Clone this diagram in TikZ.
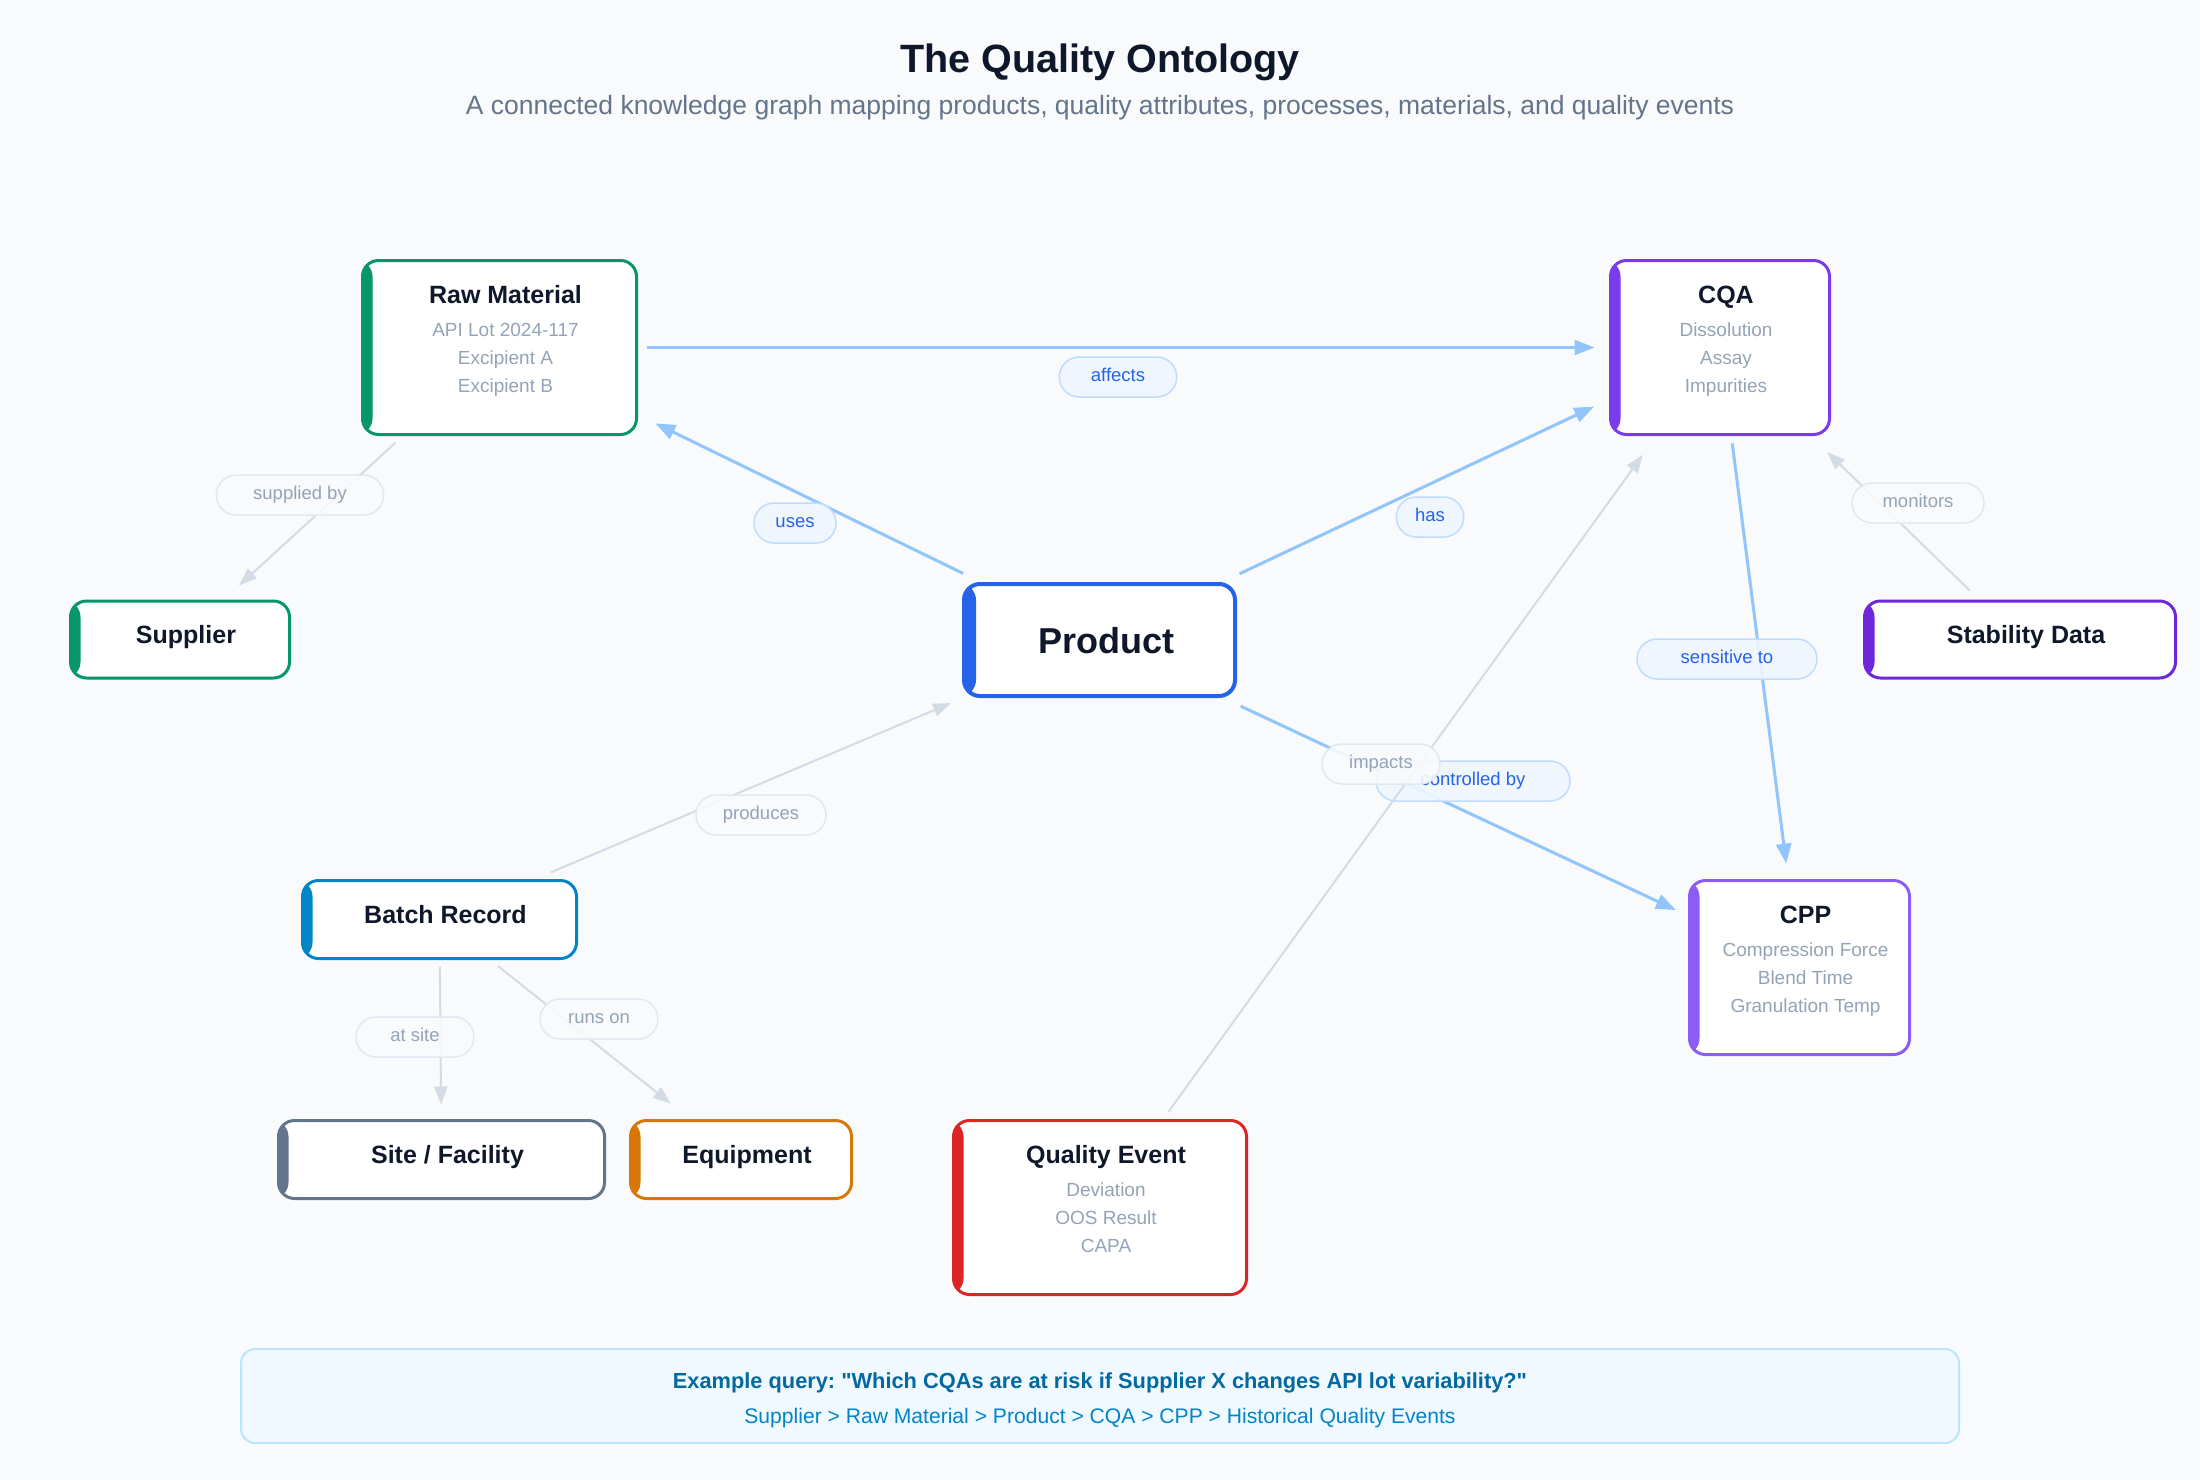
\documentclass[tikz,border=0pt]{standalone}
\usepackage{fontspec}
\setmainfont{Liberation Sans}
\newfontfamily\qfont{Liberation Sans}
\usetikzlibrary{arrows.meta}
\frenchspacing
\definecolor{bg}{HTML}{F8FAFC}
\definecolor{cink}{HTML}{0F172A}
\definecolor{csubt}{HTML}{64748B}
\definecolor{cmuted}{HTML}{94A3B8}
\definecolor{cgreen}{HTML}{059669}
\definecolor{cblue}{HTML}{2563EB}
\definecolor{cpurple}{HTML}{7C3AED}
\definecolor{cviolet}{HTML}{8B5CF6}
\definecolor{cdeep}{HTML}{6D28D9}
\definecolor{csky}{HTML}{0284C7}
\definecolor{cslate}{HTML}{64748B}
\definecolor{camber}{HTML}{D97706}
\definecolor{cred}{HTML}{DC2626}
\definecolor{cedgeb}{HTML}{93C5FD}
\definecolor{cedgeg}{HTML}{D3DBE5}
\definecolor{cpillbf}{HTML}{EFF6FF}
\definecolor{cpillbd}{HTML}{BFDBFE}
\definecolor{cpillgf}{HTML}{F8FAFC}
\definecolor{cpillgd}{HTML}{E2E8F0}
\definecolor{cqfill}{HTML}{F0F9FF}
\definecolor{cqdraw}{HTML}{BAE6FD}
\definecolor{cqone}{HTML}{0369A1}
\definecolor{cqtwo}{HTML}{0284C7}
\tikzset{
  obox/.style n args={2}{draw=#1, fill=white, rounded corners=16pt, line width=3pt,
    outer sep=0pt, inner sep=0pt,
    path picture={\fill[#1] (path picture bounding box.north west) rectangle
      ([xshift=#2]path picture bounding box.south west);}},
  ttl/.style={anchor=base, inner sep=0pt, text=cink, font=\fontsize{25pt}{30pt}\selectfont\bfseries},
  subl/.style={anchor=base, inner sep=0pt, text=cmuted, align=center, font=\fontsize{19pt}{28pt}\selectfont},
  bedge/.style={draw=cedgeb, line width=3pt, -{Triangle[length=20pt,width=15pt]}},
  gedge/.style={draw=cedgeg, line width=2pt, -{Triangle[length=18pt,width=13pt]}},
  pill/.style={rounded corners=20pt, minimum height=40pt, line width=1.5pt, inner sep=0pt,
    fill opacity=0.9, text opacity=1, text height=13pt, text depth=4pt,
    font=\fontsize{18.5pt}{22pt}\selectfont},
  bpill/.style={pill, draw=cpillbd, fill=cpillbf, text=cblue},
  gpill/.style={pill, draw=cpillgd, fill=cpillgf, text=cmuted},
}
\begin{document}
\begin{tikzpicture}[x=1pt,y=-1pt]
\fill[bg] (0,0) rectangle (2200,1480);
\useasboundingbox (0,0) rectangle (2200,1480);

% titles
\node[anchor=base, inner sep=0pt, text=cink, font=\fontsize{39.5pt}{46pt}\selectfont\bfseries] (title) at (1100,72) {The Quality Ontology};
\node[anchor=base, inner sep=0pt, text=csubt, font=\fontsize{26.5pt}{30pt}\selectfont] (subtitle) at (1100,114) {A connected knowledge graph mapping products, quality attributes, processes, materials, and quality events};

% boxes
\node[obox={cgreen}{10pt}, minimum width=274pt, minimum height=174pt] (rm) at (499.5,347.5) {};
\node[obox={cpurple}{10pt}, minimum width=219pt, minimum height=174pt] (cqa) at (1720,347.5) {};
\node[obox={cgreen}{10pt}, minimum width=219pt, minimum height=77pt] (sup) at (180,639.5) {};
\node[obox={cblue}{12pt}, line width=4pt, minimum width=271pt, minimum height=112pt] (prod) at (1099.5,640) {};
\node[obox={cdeep}{10pt}, minimum width=311pt, minimum height=77pt] (stab) at (2020,639.5) {};
\node[obox={csky}{10pt}, minimum width=274pt, minimum height=78pt] (br) at (439.5,919.5) {};
\node[obox={cviolet}{10pt}, minimum width=220pt, minimum height=174pt] (cpp) at (1799.5,967.5) {};
\node[obox={cslate}{10pt}, minimum width=326pt, minimum height=78pt] (site) at (441.5,1159.5) {};
\node[obox={camber}{10pt}, minimum width=221pt, minimum height=78pt] (eq) at (741,1159.5) {};
\node[obox={cred}{10pt}, minimum width=293pt, minimum height=174pt] (qe) at (1100,1207.5) {};

% box texts (multi-line: base = last line)
\node[ttl] (rm-t) at (505.5,303) {Raw Material};
\node[subl] (rm-s) at (505.5,392) {API Lot 2024-117\\Excipient A\\Excipient B};
\node[ttl] (cqa-t) at (1726,303) {CQA};
\node[subl] (cqa-s) at (1726,392) {Dissolution\\Assay\\Impurities};
\node[ttl] (sup-t) at (186,643) {Supplier};
\node[ttl, font=\fontsize{36pt}{42pt}\selectfont\bfseries] (prod-t) at (1106,653) {Product};
\node[ttl] (stab-t) at (2026,643) {Stability Data};
\node[ttl] (br-t) at (445.5,923) {Batch Record};
\node[ttl] (cpp-t) at (1805.5,923) {CPP};
\node[subl] (cpp-s) at (1805.5,1012) {Compression Force\\Blend Time\\Granulation Temp};
\node[ttl] (site-t) at (447.5,1163) {Site / Facility};
\node[ttl] (eq-t) at (747,1163) {Equipment};
\node[ttl] (qe-t) at (1106,1163) {Quality Event};
\node[subl] (qe-s) at (1106,1252) {Deviation\\OOS Result\\CAPA};

% edges and labels
\draw[bedge, shorten <=10pt, shorten >=16pt] (rm) -- (cqa);
\node[bpill, minimum width=117.5pt] (l-aff) at (1118,377) {affects};
\draw[bedge, shorten <=24pt, shorten >=21pt] (prod) -- (rm);
\node[bpill, minimum width=82pt] (l-uses) at (795,523) {uses};
\draw[bedge, shorten <=24pt, shorten >=18pt] (prod) -- (cqa);
\node[bpill, minimum width=67.5pt] (l-has) at (1430,517) {has};
\draw[bedge, shorten <=9pt, shorten >=17pt] (cqa) -- (cpp);
\node[bpill, minimum width=180pt] (l-sens) at (1727,659) {sensitive to};
\draw[gedge, shorten <=12pt, shorten >=23pt] (rm) -- (sup);
\node[gpill, minimum width=167.5pt] (l-sup) at (300,495) {supplied by};
\draw[gedge, shorten <=15pt, shorten >=25pt] (stab) -- (cqa);
\node[gpill, minimum width=132pt] (l-mon) at (1918,503) {monitors};
\draw[gedge, shorten <=21pt, shorten >=18pt] (br) -- (prod);
\node[gpill, minimum width=130pt] (l-prod) at (761,815) {produces};
\draw[gedge, shorten <=8pt, shorten >=16pt] (br) -- (site);
\node[gpill, minimum width=118pt] (l-site) at (415,1037) {at site};
\draw[gedge, shorten <=12pt, shorten >=27pt] (br) -- (eq);
\node[gpill, minimum width=118pt] (l-runs) at (599,1019) {runs on};
\draw[bedge, shorten <=24pt, shorten >=15pt] (prod) -- (cpp);
\node[bpill, minimum width=194pt] (l-ctrl) at (1473,781) {controlled by};
\draw[gedge, shorten <=11pt, shorten >=25pt] (qe) -- (cqa);
\node[gpill, minimum width=118pt] (l-imp) at (1381,764) {impacts};

% query box
\node[draw=cqdraw, fill=cqfill, line width=2pt, rounded corners=14pt, minimum width=1718pt, minimum height=94pt, inner sep=0pt] (query) at (1100,1396) {};
\node[anchor=base, inner sep=0pt, text=cqone, font=\qfont\fontsize{21.8pt}{26pt}\selectfont\bfseries] (q1) at (1100,1388) {Example query: "Which CQAs are at risk if Supplier X changes API lot variability?"};
\node[anchor=base, inner sep=0pt, text=cqtwo, font=\fontsize{21.1pt}{26pt}\selectfont] (q2) at (1100,1423) {Supplier > Raw Material > Product > CQA > CPP > Historical Quality Events};
\end{tikzpicture}
\end{document}
